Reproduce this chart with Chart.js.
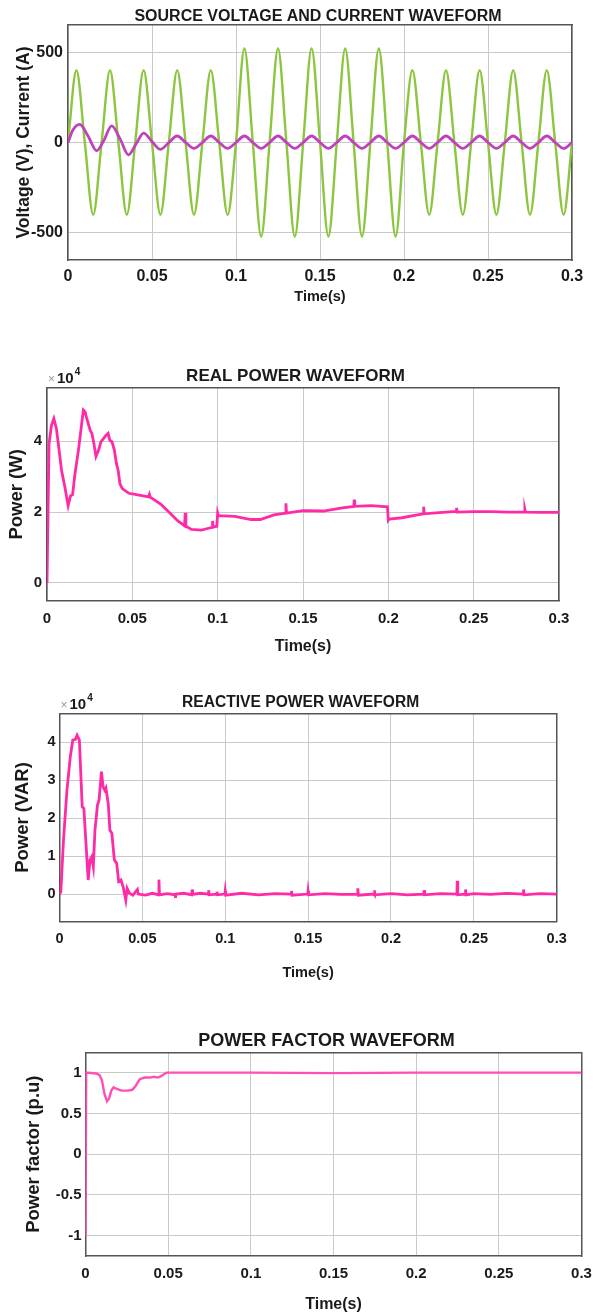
<!DOCTYPE html>
<html><head><meta charset="utf-8">
<script src="https://cdn.jsdelivr.net/npm/chart.js@4.4.1/dist/chart.umd.min.js"></script>
<style>
html,body{margin:0;padding:0;background:#fff;}
#wrap{position:relative;width:597px;height:1314px;overflow:hidden;background:#fff;}
canvas{position:absolute;left:0;}
</style></head><body>
<div id="wrap">
<canvas id="c1" width="597" height="320" style="top:0px"></canvas>
<canvas id="c2" width="597" height="340" style="top:320px"></canvas>
<canvas id="c3" width="597" height="330" style="top:660px"></canvas>
<canvas id="c4" width="597" height="324" style="top:990px"></canvas>
</div>
<script>
// ---------- data ----------
const timeTicks = [0, 0.05, 0.1, 0.15, 0.2, 0.25, 0.3];
const timeTickLabels = ['0', '0.05', '0.1', '0.15', '0.2', '0.25', '0.3'];

const vTicks = [-500, 0, 500];
const pTicks = [0, 2, 4];
const qTicks = [0, 1, 2, 3, 4];
const pfTicks = [-1, -0.5, 0, 0.5, 1];

// source voltage (V): peaks, troughs and zero crossings
const timeV = [0,0.005,0.01,0.015,0.02,0.025,0.03,0.035,0.04,0.045,0.05,0.055,0.06,0.065,0.07,0.075,0.08,0.085,0.09,0.095,
  0.1,0.105,0.11,0.115,0.12,0.125,0.13,0.135,0.14,0.145,0.15,0.155,0.16,0.165,0.17,0.175,0.18,0.185,0.19,0.195,
  0.2,0.205,0.21,0.215,0.22,0.225,0.23,0.235,0.24,0.245,0.25,0.255,0.26,0.265,0.27,0.275,0.28,0.285,0.29,0.295,0.3];
const voltage = [0,400,0,-400,0,400,0,-400,0,400,0,-400,0,400,0,-400,0,400,0,-400,
  0,520,0,-520,0,520,0,-520,0,520,0,-520,0,520,0,-520,0,520,0,-520,
  0,400,0,-400,0,400,0,-400,0,400,0,-400,0,400,0,-400,0,400,0,-400,0];

// source current (A)
const timeI = [0,0.003,0.007,0.012,0.017,0.021,0.026,0.031,0.036,0.0405,0.045,0.05,0.055,
  0.06,0.065,0.07,0.075,0.08,0.085,0.09,0.095,0.1,0.105,0.11,0.115,0.12,0.125,0.13,0.135,0.14,0.145,0.15,0.155,
  0.16,0.165,0.17,0.175,0.18,0.185,0.19,0.195,0.2,0.205,0.21,0.215,0.22,0.225,0.23,0.235,0.24,0.245,0.25,0.255,
  0.26,0.265,0.27,0.275,0.28,0.285,0.29,0.295,0.3];
const current = [0,70,100,35,-45,5,92,20,-68,-8,52,5,-38,
  0,36,0,-33,0,36,0,-33,0,36,0,-33,0,36,0,-33,0,36,0,-33,
  0,36,0,-33,0,36,0,-33,0,36,0,-33,0,36,0,-33,0,36,0,-33,
  0,36,0,-33,0,36,0,-33,0];

// real power (x10^4 W)
const timeP = [0,0.0006,0.0012,0.0026,0.004,0.0055,0.0071,0.0085,0.0105,0.0124,0.0138,0.015,0.0164,0.0184,0.02,
  0.0213,0.0223,0.0233,0.0253,0.0263,0.0273,0.0287,0.0302,0.0316,0.0332,0.0346,0.0358,0.0368,0.0381,0.0395,
  0.0407,0.0417,0.0427,0.0441,0.048,0.054,0.0595,0.06,0.0605,0.0668,0.0717,0.0767,0.0806,0.081,0.0814,
  0.0846,0.0905,0.0935,0.0968,0.097,0.0973,0.0995,0.1,0.1005,0.11,0.1196,0.125,0.133,0.1398,0.14,
  0.1403,0.15,0.162,0.173,0.1798,0.18,0.1803,0.19,0.1995,0.2,0.2005,0.208,0.217,0.2205,0.2207,
  0.221,0.228,0.2398,0.24,0.2403,0.25,0.26,0.27,0.2798,0.28,0.2803,0.29,0.3];
const realPower = [0,2.0,3.93,4.45,4.64,4.36,3.74,3.18,2.7,2.18,2.46,2.49,3.08,3.74,4.36,
  4.88,4.83,4.64,4.31,4.22,3.98,3.57,3.74,3.98,4.08,4.17,4.22,4.03,3.98,3.74,
  3.36,3.18,2.8,2.66,2.53,2.48,2.43,2.5,2.42,2.22,1.99,1.75,1.61,1.98,1.6,
  1.51,1.49,1.53,1.57,1.75,1.58,1.6,1.98,1.9,1.88,1.79,1.79,1.92,1.97,2.25,
  1.97,2.04,2.03,2.12,2.16,2.35,2.16,2.18,2.15,1.77,1.8,1.84,1.92,1.95,2.15,
  1.95,1.98,2.02,2.12,2.0,2.01,2.01,2.0,2.0,2.07,2.0,1.99,1.99];

// reactive power (x10^4 VAR)
const timeQ = [0,0.0008,0.0024,0.0045,0.0065,0.008,0.0096,0.0106,0.012,0.0137,0.0147,0.0161,0.0173,0.0184,0.0194,
  0.0204,0.0214,0.0229,0.0239,0.0253,0.0263,0.0273,0.028,0.0294,0.0304,0.0316,0.0331,0.0345,0.0357,0.0371,
  0.0384,0.04,0.0408,0.0422,0.0443,0.047,0.0475,0.052,0.056,0.0598,0.06,0.0603,0.065,0.0698,0.07,
  0.0703,0.075,0.0798,0.08,0.0803,0.085,0.0898,0.09,0.0903,0.0948,0.095,0.0953,0.0998,0.1,0.1003,
  0.11,0.12,0.13,0.1398,0.14,0.1403,0.1498,0.15,0.1503,0.16,0.17,0.1798,0.18,0.1803,0.1898,
  0.19,0.1903,0.2,0.21,0.2198,0.22,0.2203,0.23,0.2398,0.24,0.2403,0.2448,0.245,0.2453,0.25,
  0.26,0.27,0.2798,0.28,0.2803,0.29,0.3];
const reactivePower = [0,0.06,1.42,2.74,3.62,4.06,4.08,4.19,4.06,2.3,2.26,1.25,0.37,0.9,0.98,
  0.72,1.69,2.35,2.48,3.23,2.83,2.74,2.8,2.39,1.69,1.6,0.9,0.81,0.33,0.37,
  0.19,-0.16,0.15,0.02,-0.03,0.12,0.0,-0.03,0.02,-0.02,0.38,-0.02,0.01,-0.02,-0.1,
  0.0,0.02,-0.02,0.12,-0.01,0.02,0.0,0.1,-0.02,0.0,0.06,-0.02,0.0,0.08,-0.03,
  0.02,-0.02,0.01,0.0,0.08,-0.03,0.0,0.08,-0.02,0.01,-0.01,0.0,0.15,-0.03,0.0,
  0.1,-0.02,0.01,-0.02,0.0,0.1,-0.02,0.01,0.0,0.35,-0.02,0.0,0.12,-0.02,0.01,
  -0.01,0.02,0.0,0.12,-0.02,0.01,0.0];

// power factor (p.u)
const timePF = [0,0.0004,0.0065,0.0085,0.0099,0.0115,0.013,0.0142,0.0156,0.017,0.019,0.0217,0.0257,0.0283,0.0304,
  0.0328,0.0358,0.0389,0.0413,0.0439,0.046,0.0474,0.049,0.06,0.1,0.15,0.2,0.25,0.3];
const powerFactor = [-1,1,0.99,0.97,0.91,0.74,0.65,0.68,0.78,0.82,0.8,0.78,0.78,0.79,0.84,
  0.92,0.94,0.94,0.95,0.94,0.96,0.98,1.0,1.0,1.0,0.995,1.0,1.0,1.0];

// ---------- drawing ----------
const FONT = "'Liberation Sans', Arial, Helvetica, sans-serif";
const TXT = '#1a1a1a';
const GRID = '#cacaca';
const BORDER = '#555555';

function pts(xs, ys) { return xs.map((x, i) => ({ x: x, y: ys[i] })); }

const sciPlugin = {
  id: 'sciLabel',
  afterLayout(chart, args, opts) {
    if (opts && opts.titleShift && chart.titleBlock) {
      chart.titleBlock.left += 2 * opts.titleShift;
    }
  },
  afterDraw(chart, args, opts) {
    if (!opts || !opts.show) return;
    const ctx = chart.ctx, a = chart.chartArea;
    const x = a.left + opts.dx, y = a.top + opts.dy;
    ctx.save();
    ctx.textAlign = 'left';
    ctx.textBaseline = 'alphabetic';
    ctx.fillStyle = '#9a9a9a';
    ctx.font = '12px ' + FONT;
    ctx.fillText('\u00d7', x, y);
    ctx.fillStyle = TXT;
    ctx.font = 'bold 15px ' + FONT;
    ctx.fillText('10', x + 9, y);
    const w = ctx.measureText('10').width;
    ctx.font = 'bold 10px ' + FONT;
    ctx.fillText('4', x + 10 + w, y - 8);
    ctx.restore();
  }
};

function makeChart(id, o) {
  const H = o.H;
  // x tick label centre sits xTickGap px below the plot; small padding keeps the
  // right-hand label from shrinking the plot area, the line height does the rest
  const xTickPad = 3;
  const xTickLH = 2 * (o.xTickGap - xTickPad) / o.tickSize;
  return new Chart(document.getElementById(id), {
    type: 'line',
    data: { datasets: o.datasets },
    plugins: [sciPlugin],
    options: {
      responsive: false, animation: false, devicePixelRatio: 1,
      layout: { autoPadding: false, padding: { left: 0, right: 597 - o.area.right, top: 0, bottom: 0 } },
      elements: { point: { radius: 0 } },
      plugins: {
        legend: { display: false },
        tooltip: { enabled: false },
        title: {
          display: true, text: o.title, fullSize: false, color: TXT,
          font: { family: FONT, size: o.titleSize, weight: 'bold', lineHeight: 1 },
          padding: { top: o.titleY - o.titleSize / 2, bottom: o.area.top - (o.titleY - o.titleSize / 2) - o.titleSize }
        },
        sciLabel: Object.assign({ show: false, titleShift: o.titleShift || 0 }, o.sci || {})
      },
      scales: {
        x: {
          type: 'linear', position: 'bottom', min: 0, max: 0.3,
          afterBuildTicks: s => { s.ticks = timeTicks.map(v => ({ value: v })); },
          afterFit: s => { s.height = H - o.area.bottom; },
          grid: { color: GRID, lineWidth: 1, drawTicks: false },
          border: { display: true, color: BORDER, width: 1.5 },
          ticks: {
            padding: xTickPad, color: TXT, maxRotation: 0, autoSkip: false,
            font: { family: FONT, size: o.tickSize, weight: 'bold', lineHeight: xTickLH },
            callback: (v, i) => timeTickLabels[i]
          },
          title: {
            display: true, text: 'Time(s)', color: TXT,
            font: { family: FONT, size: o.xTitleSize, weight: 'bold', lineHeight: 1 },
            padding: { top: 0, bottom: H - o.xTitleY - o.xTitleSize / 2 }
          }
        },
        y: {
          type: 'linear', position: 'left', min: o.yMin, max: o.yMax,
          afterBuildTicks: s => { s.ticks = o.yTicks.map(v => ({ value: v })); },
          afterFit: s => { s.width = o.area.left; },
          grid: { color: GRID, lineWidth: 1, drawTicks: false },
          border: { display: true, color: BORDER, width: 1.5 },
          ticks: {
            padding: o.yTickPad, color: TXT,
            font: { family: FONT, size: o.tickSize, weight: 'bold' },
            callback: v => String(v)
          },
          title: {
            display: true, text: o.yTitle, color: TXT,
            font: { family: FONT, size: o.yTitleSize, weight: 'bold', lineHeight: 1 },
            padding: { top: o.yTitleX - o.yTitleSize / 2, bottom: 0 }
          }
        },
        x2: {
          type: 'linear', position: 'top', display: true,
          grid: { display: false, drawTicks: false }, ticks: { display: false },
          border: { display: true, color: BORDER, width: 1.5 },
          afterFit: s => { s.height = 0; }
        },
        y2: {
          type: 'linear', position: 'right', display: true,
          grid: { display: false, drawTicks: false }, ticks: { display: false },
          border: { display: true, color: BORDER, width: 1.5 },
          afterFit: s => { s.width = 0; }
        }
      }
    }
  });
}

function line(data, color, width, extra) {
  return Object.assign({ data: data, borderColor: color, borderWidth: width, pointRadius: 0,
    fill: false, tension: 0, xAxisID: 'x', yAxisID: 'y' }, extra || {});
}

makeChart('c1', {
  H: 320, area: { left: 68, right: 572, top: 25, bottom: 260 },
  title: 'SOURCE VOLTAGE AND CURRENT WAVEFORM', titleSize: 16, titleY: 17, titleShift: -2,
  yTitle: 'Voltage (V), Current (A)', yTitleSize: 17.5, yTitleX: 24,
  xTitleSize: 14.5, xTitleY: 297, tickSize: 16, xTickGap: 17, yTickPad: 5,
  yMin: -650, yMax: 650, yTicks: vTicks,
  datasets: [
    line(pts(timeI, current), '#c040c0', 2.8, { cubicInterpolationMode: 'monotone', order: 0 }),
    line(pts(timeV, voltage), '#8cc63e', 2.4, { cubicInterpolationMode: 'monotone', order: 1 })
  ]
});

makeChart('c2', {
  H: 340, area: { left: 47, right: 559, top: 68, bottom: 280.7 },
  title: 'REAL POWER WAVEFORM', titleSize: 17, titleY: 56.7, titleShift: -7.5,
  yTitle: 'Power (W)', yTitleSize: 18.5, yTitleX: 17,
  xTitleSize: 16, xTitleY: 327, tickSize: 15, xTickGap: 18, yTickPad: 5,
  yMin: -0.5, yMax: 5.5, yTicks: pTicks,
  sci: { show: true, dx: 1, dy: -5 },
  datasets: [ line(pts(timeP, realPower), '#ff2aa6', 2.8) ]
});

makeChart('c3', {
  H: 330, area: { left: 59.5, right: 556.7, top: 53.3, bottom: 261.7 },
  title: 'REACTIVE POWER WAVEFORM', titleSize: 15.6, titleY: 42.7, titleShift: -7.5,
  yTitle: 'Power (VAR)', yTitleSize: 18.5, yTitleX: 23,
  xTitleSize: 14.5, xTitleY: 313.3, tickSize: 14.5, xTickGap: 17, yTickPad: 4,
  yMin: -0.73, yMax: 4.77, yTicks: qTicks,
  sci: { show: true, dx: 1, dy: -4 },
  datasets: [ line(pts(timeQ, reactivePower), '#ff2aa6', 2.8) ]
});

makeChart('c4', {
  H: 324, area: { left: 85.5, right: 581.5, top: 62.3, bottom: 266 },
  title: 'POWER FACTOR WAVEFORM', titleSize: 18, titleY: 50.7, titleShift: -7,
  yTitle: 'Power factor (p.u)', yTitleSize: 18.5, yTitleX: 34,
  xTitleSize: 16, xTitleY: 315, tickSize: 15, xTickGap: 18, yTickPad: 4,
  yMin: -1.25, yMax: 1.25, yTicks: pfTicks,
  datasets: [ line(pts(timePF, powerFactor), '#ff4fb5', 2.4) ]
});
</script>
</body></html>
